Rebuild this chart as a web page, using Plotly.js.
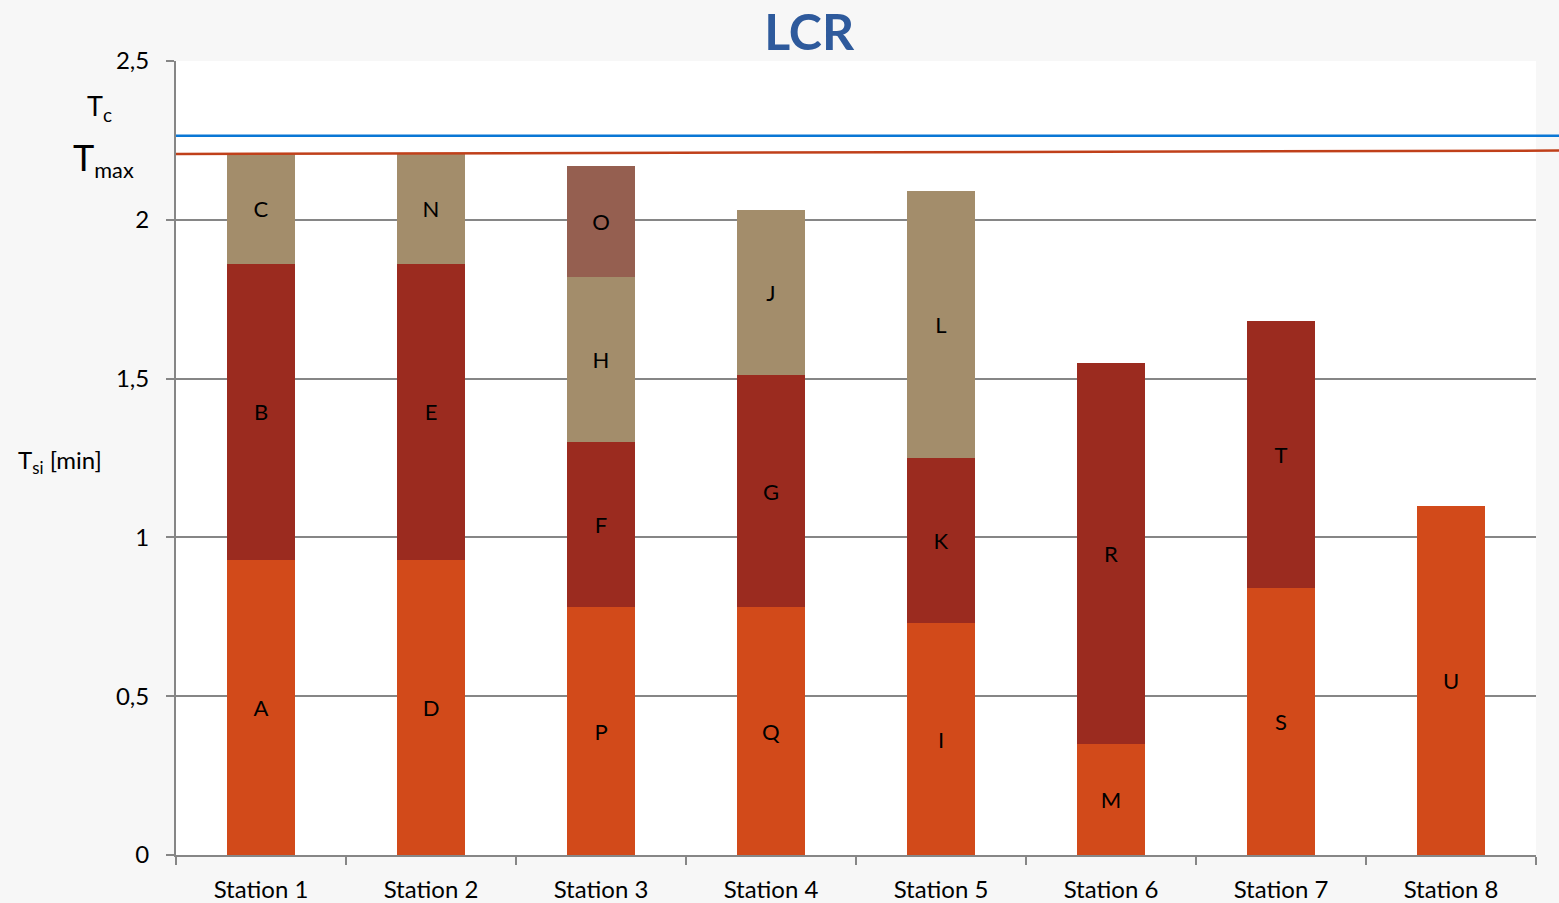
<!DOCTYPE html>
<html><head><meta charset="utf-8">
<script src="https://cdn.plot.ly/plotly-3.0.1.min.js"></script>
<style>html,body{margin:0;padding:0;background:#f7f7f7;}#chart{width:1559px;height:903px;}</style>
</head><body><div id="chart"></div>
<script>
var stations = ["Station 1","Station 2","Station 3","Station 4","Station 5","Station 6","Station 7","Station 8"];
// stacked layers from bottom to top
var layer1Vals = [0.93, 0.93, 0.78, 0.78, 0.73, 0.35, 0.84, 1.10];
var layer1Text = ["A","D","P","Q","I","M","S","U"];
var layer2Vals = [0.93, 0.93, 0.52, 0.73, 0.52, 1.20, 0.84];
var layer2Text = ["B","E","F","G","K","R","T"];
var layer3Vals = [0.35, 0.35, 0.52, 0.52, 0.84];
var layer3Text = ["C","N","H","J","L"];
var layer4Stations = ["Station 3"];
var layer4Vals = [0.35];
var layer4Text = ["O"];
var tcValue = 2.265;
var tmaxValues = [2.207, 2.218];
var yTicks = [0, 0.5, 1, 1.5, 2, 2.5];

var colors = ["#D24A1A", "#9B2B1F", "#A38D6B", "#955F50"];
var font = "Lato, 'Open Sans', sans-serif";

function layer(xs, vals, txt, color) {
  return {
    type: "bar", x: xs, y: vals, text: txt,
    textposition: "inside", insidetextanchor: "middle", textangle: 0,
    textfont: {family: font, size: 22, color: "#000"},
    marker: {color: color, line: {width: 0}},
    hoverinfo: "x+y", showlegend: false, cliponaxis: false
  };
}
var data = [
  layer(stations, layer1Vals, layer1Text, colors[0]),
  layer(stations.slice(0, layer2Vals.length), layer2Vals, layer2Text, colors[1]),
  layer(stations.slice(0, layer3Vals.length), layer3Vals, layer3Text, colors[2]),
  layer(layer4Stations, layer4Vals, layer4Text, colors[3])
];

var layout = {
  width: 1559, height: 903,
  paper_bgcolor: "#f7f7f7", plot_bgcolor: "#ffffff",
  margin: {l: 176, r: 23, t: 61, b: 48},
  barmode: "stack", bargap: 0.6,
  separators: ",.",
  font: {family: font, color: "#000"},
  title: {text: "<b>LCR</b>", font: {family: "Lato, 'Open Sans', sans-serif", size: 50, color: "#2E5A9C"},
          xref: "container", x: 0.519, xanchor: "center", yref: "container", y: 0.964, yanchor: "middle"},
  xaxis: {
    type: "category", categoryorder: "array", categoryarray: stations,
    showline: true, linecolor: "#868686", linewidth: 2,
    ticks: "outside", tickson: "boundaries", ticklen: 8, tickwidth: 2, tickcolor: "#868686",
    tickfont: {family: font, size: 24, color: "#000"}, ticklabelstandoff: 12,
    showgrid: false, zeroline: false, automargin: false
  },
  yaxis: {
    range: [0, 2.5], tickvals: yTicks, ticks: "outside", ticklen: 8, tickwidth: 2, tickcolor: "#868686",
    showline: true, linecolor: "#868686", linewidth: 2,
    showgrid: true, gridcolor: "#868686", gridwidth: 2, zeroline: false,
    tickfont: {family: font, size: 24, color: "#000"}, ticklabelstandoff: 12, automargin: false
  },
  shapes: [
    {type: "line", xref: "paper", yref: "y", x0: 0, x1: 1.02, y0: tcValue, y1: tcValue,
     line: {color: "#0A77D5", width: 2.5}},
    {type: "line", xref: "paper", yref: "y", x0: 0, x1: 1.02, y0: tmaxValues[0], y1: tmaxValues[1],
     line: {color: "#C0401A", width: 2.5}}
  ],
  annotations: [
    {xref: "paper", yref: "y", x: -0.056, y: 2.355, xanchor: "center", yanchor: "middle", showarrow: false,
     text: "T<sub>c</sub>", font: {family: font, size: 27, color: "#000"}},
    {xref: "paper", yref: "y", x: -0.053, y: 2.19, xanchor: "center", yanchor: "middle", showarrow: false,
     text: "<span style='font-size:36px'>T</span><sub>max</sub>", font: {family: font, size: 31, color: "#000"}},
    {xref: "paper", yref: "y", x: -0.085, y: 1.24, xanchor: "center", yanchor: "middle", showarrow: false,
     text: "T<sub>si</sub> [min]", font: {family: font, size: 24, color: "#000"}}
  ]
};
Plotly.newPlot("chart", data, layout, {displayModeBar: false, staticPlot: true});
</script></body></html>
